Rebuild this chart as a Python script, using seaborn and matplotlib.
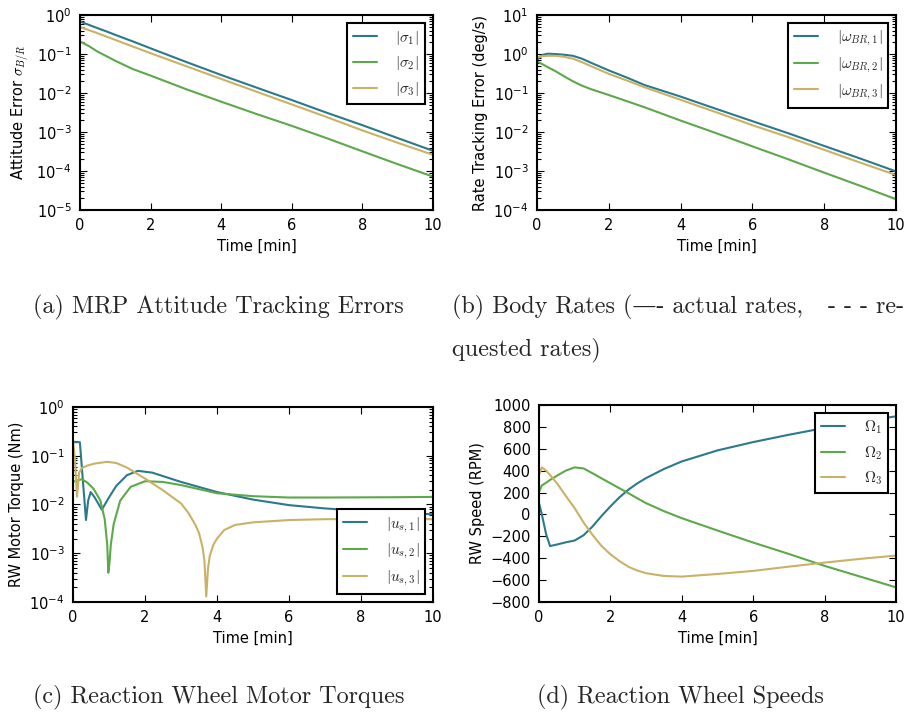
import numpy as np
import pandas as pd
import seaborn as sns
import matplotlib.pyplot as plt
from matplotlib.ticker import LogLocator, NullFormatter

# ---------------------------------------
# Data
# ---------------------------------------
# (a) MRP attitude tracking errors
t_a = [0, 0.25, 0.5, 0.75, 1, 1.5, 2, 3, 4, 5, 6, 7, 8, 9, 10]
sigma_1 = [0.68, 0.56, 0.46, 0.38, 0.31, 0.21, 0.14, 0.063, 0.029, 0.0138,
           0.0066, 0.0031, 0.0015, 7.0e-4, 3.3e-4]
sigma_2 = [0.21, 0.16, 0.115, 0.088, 0.067, 0.041, 0.028, 0.0126, 0.006,
           0.0029, 0.00144, 6.9e-4, 3.2e-4, 1.5e-4, 7.2e-5]
sigma_3 = [0.49, 0.41, 0.34, 0.28, 0.23, 0.155, 0.105, 0.049, 0.023, 0.0108,
           0.0051, 0.0024, 0.0011, 5.3e-4, 2.6e-4]

# (b) body rate tracking errors
t_b = [0, 0.15, 0.3, 0.5, 0.75, 1, 1.25, 1.5, 2, 2.5, 3, 4, 5, 6, 7, 8, 9, 10]
omega_1 = [0.71, 0.95, 1.02, 1.0, 0.96, 0.9, 0.76, 0.6, 0.38, 0.25, 0.16,
           0.081, 0.039, 0.019, 0.0093, 0.0044, 0.0021, 0.00098]
omega_2 = [0.65, 0.55, 0.46, 0.37, 0.27, 0.2, 0.155, 0.126, 0.089, 0.062,
           0.043, 0.0197, 0.0093, 0.0043, 0.002, 9.1e-4, 4.2e-4, 1.9e-4]
omega_3 = [0.82, 0.88, 0.9, 0.9, 0.85, 0.76, 0.62, 0.49, 0.31, 0.21, 0.14,
           0.067, 0.032, 0.015, 0.0074, 0.0035, 0.00165, 0.00079]

# (c) reaction wheel motor torques
t_u1 = [0, 0.19, 0.36, 0.42, 0.49, 0.6, 0.8, 1.0, 1.2, 1.5, 1.8, 2.2, 3, 4,
        5, 6, 7, 8, 9, 10]
u_1 = [0.19, 0.19, 0.0048, 0.012, 0.018, 0.014, 0.0078, 0.014, 0.024, 0.04,
       0.049, 0.045, 0.029, 0.018, 0.0126, 0.0097, 0.0083, 0.0074, 0.0068,
       0.0063]
t_u2 = [0, 0.1, 0.25, 0.4, 0.57, 0.76, 0.88, 0.95, 0.98, 1.01, 1.05, 1.13,
        1.31, 1.6, 2.0, 2.5, 3, 4, 5, 6, 7, 8, 9, 10]
u_2 = [0.029, 0.031, 0.033, 0.028, 0.021, 0.012, 0.005, 0.0015, 0.0004,
       0.0006, 0.0015, 0.004, 0.012, 0.023, 0.03, 0.029, 0.025, 0.017, 0.0148,
       0.0139, 0.0139, 0.014, 0.0141, 0.0143]
t_u3 = [0, 0.05, 0.11, 0.17, 0.25, 0.4, 0.6, 0.94, 1.2, 1.5, 2, 2.5, 3, 3.2,
        3.4, 3.5, 3.6, 3.65, 3.7, 3.75, 3.8, 3.9, 4, 4.2, 4.5, 5, 6, 7, 8, 9,
        10]
u_3 = [0.2, 0.09, 0.0144, 0.045, 0.056, 0.063, 0.069, 0.075, 0.071, 0.057,
       0.034, 0.0195, 0.0105, 0.0068, 0.0038, 0.0026, 0.0013, 0.0007, 0.00013,
       0.0005, 0.0009, 0.0015, 0.002, 0.003, 0.0038, 0.0043, 0.0048, 0.005,
       0.005, 0.005, 0.005]

# (d) reaction wheel speeds
t_d = [0, 0.08, 0.2, 0.31, 0.5, 0.75, 1, 1.25, 1.5, 1.75, 2, 2.25, 2.5, 2.75,
       3, 3.5, 4, 5, 6, 7, 8, 9, 10]
Omega_1 = [105, 0, -180, -289, -275, -255, -238, -190, -110, -15, 73, 155,
           225, 283, 332, 415, 484, 585, 661, 728, 790, 850, 896]
Omega_2 = [205, 265, 290, 315, 353, 400, 430, 420, 376, 330, 285, 240, 195,
           148, 103, 30, -34, -147, -257, -361, -470, -568, -666]
Omega_3 = [360, 430, 400, 360, 286, 170, 57, -74, -187, -287, -364, -425,
           -477, -512, -537, -562, -568, -544, -516, -477, -440, -406, -376]

colors = ["#2b7a8b", "#5da84a", "#c9b266"]

# ---------------------------------------
# Style: old matplotlib "classic" look
# ---------------------------------------
sns.set_style("white")
plt.rcParams.update({
    "font.family": "DejaVu Sans",
    "font.size": 10,
    "mathtext.fontset": "cm",
    "axes.linewidth": 1.5,
    "axes.edgecolor": "black",
    "axes.labelcolor": "black",
    "xtick.color": "black",
    "ytick.color": "black",
    "xtick.direction": "in",
    "ytick.direction": "in",
    "xtick.top": True,
    "ytick.right": True,
    "xtick.bottom": True,
    "ytick.left": True,
    "xtick.major.size": 5,
    "ytick.major.size": 5,
    "xtick.minor.size": 3,
    "ytick.minor.size": 3,
    "xtick.major.width": 0.8,
    "ytick.major.width": 0.8,
    "xtick.minor.width": 0.8,
    "ytick.minor.width": 0.8,
    "xtick.major.pad": 6,
    "ytick.major.pad": 6,
    "xtick.labelsize": 10.5,
    "ytick.labelsize": 10.5,
    "axes.labelsize": 10.5,
    "legend.fontsize": 11,
    "legend.fancybox": False,
    "legend.framealpha": 1,
    "legend.edgecolor": "black",
    "lines.linewidth": 1.5,
})

fig = plt.figure(figsize=(9.06, 7.12), dpi=100)
ax_a = fig.add_axes([0.0883, 0.705, 0.3896, 0.2739])
ax_b = fig.add_axes([0.5927, 0.705, 0.3962, 0.2739])
ax_c = fig.add_axes([0.0806, 0.1545, 0.3974, 0.2739])
ax_d = fig.add_axes([0.5949, 0.1545, 0.394, 0.2767])


def draw(ax, series, labels):
    for (t, y), lab, c in zip(series, labels, colors):
        sns.lineplot(x=t, y=y, ax=ax, color=c, label=lab, linewidth=1.5,
                     sort=False, estimator=None)
    ax.set_xlim(0, 10)
    ax.set_xlabel("Time [min]")


def log_y(ax, lo, hi):
    ax.set_yscale("log")
    ax.set_ylim(lo, hi)
    ax.yaxis.set_major_locator(LogLocator(base=10, numticks=20))
    ax.yaxis.set_minor_locator(LogLocator(base=10, subs=np.arange(2, 10), numticks=200))
    ax.yaxis.set_minor_formatter(NullFormatter())


draw(ax_a, [(t_a, sigma_1), (t_a, sigma_2), (t_a, sigma_3)],
     [r"$|\sigma_1|$", r"$|\sigma_2|$", r"$|\sigma_3|$"])
log_y(ax_a, 1e-5, 1)
ax_a.set_ylabel(r"Attitude Error $\sigma_{B/R}$")

draw(ax_b, [(t_b, omega_1), (t_b, omega_2), (t_b, omega_3)],
     [r"$|\omega_{BR,1}|$", r"$|\omega_{BR,2}|$", r"$|\omega_{BR,3}|$"])
log_y(ax_b, 1e-4, 10)
ax_b.set_ylabel("Rate Tracking Error (deg/s)")

draw(ax_c, [(t_u1, u_1), (t_u2, u_2), (t_u3, u_3)],
     [r"$|u_{s,1}|$", r"$|u_{s,2}|$", r"$|u_{s,3}|$"])
log_y(ax_c, 1e-4, 1)
ax_c.set_ylabel("RW Motor Torque (Nm)")

draw(ax_d, [(t_d, Omega_1), (t_d, Omega_2), (t_d, Omega_3)],
     [r"$\Omega_1$", r"$\Omega_2$", r"$\Omega_3$"])
ax_d.set_ylim(-800, 1000)
ax_d.set_yticks(np.arange(-800, 1001, 200))
ax_d.set_ylabel("RW Speed (RPM)")

for ax, loc in [(ax_a, "upper right"), (ax_b, "upper right"),
                (ax_c, "lower right"), (ax_d, "upper right")]:
    ax.set_xticks([0, 2, 4, 6, 8, 10])
    ax.tick_params(which="major", direction="in", top=True, right=True, length=5)
    ax.tick_params(which="minor", direction="in", left=True, right=True, length=3, width=0.8)
    leg = ax.legend(loc=loc, handlelength=1.6, handletextpad=1.2,
                    labelspacing=0.5, borderpad=0.4)
    leg.get_frame().set_linewidth(1.5)
    for spine in ax.spines.values():
        spine.set_visible(True)

# ---------------------------------------
# Sub-figure captions
# ---------------------------------------
cap = dict(family=["cmr10", "DejaVu Serif"], fontsize=17.4, va="center")
fig.text(33 / 906, 1 - 307 / 712, "(a) MRP Attitude Tracking Errors", ha="left", **cap)
fig.text(452 / 906, 1 - 307 / 712, "(b) Body Rates (\u2014- actual rates,", ha="left", **cap)
fig.text(904 / 906, 1 - 307 / 712, "- - - re-", ha="right", **cap)
fig.text(452 / 906, 1 - 350 / 712, "quested rates)", ha="left", **cap)
fig.text(33 / 906, 1 - 697 / 712, "(c) Reaction Wheel Motor Torques", ha="left", **cap)
fig.text(537 / 906, 1 - 697 / 712, "(d) Reaction Wheel Speeds", ha="left", **cap)

fig.savefig("out.png", dpi=100, facecolor="white")
